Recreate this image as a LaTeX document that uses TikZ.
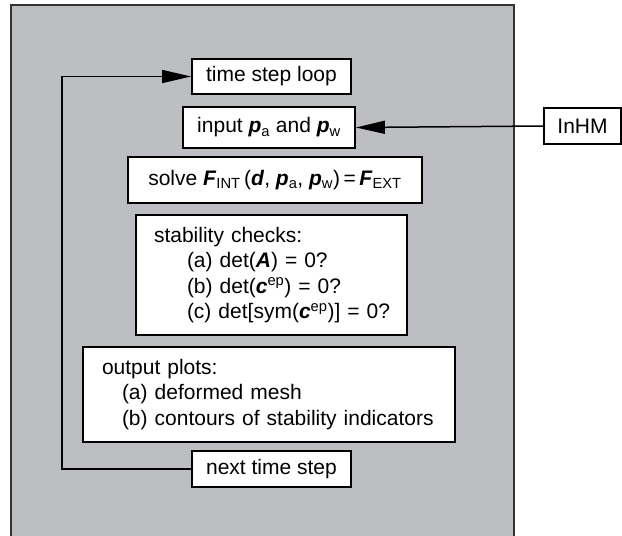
\documentclass[tikz,border=0pt]{standalone}
\usepackage{fontspec}
\setmainfont{Liberation Sans}
\usetikzlibrary{arrows.meta}
\definecolor{panelgray}{RGB}{189,190,194}
\newcommand\bv[1]{\textbf{\textit{#1}}}
\begin{document}
\begin{tikzpicture}[x=1pt,y=-1pt,
  box/.style={draw=black, line width=1.9pt, fill=white, inner sep=0pt,
    font=\fontsize{21}{25.5}\selectfont},
  conn/.style={line width=1.5pt},
  arr/.style={conn,-{Triangle[length=29pt,width=13pt]}}]
\useasboundingbox (0,0) rectangle (622,536);
\fill[panelgray] (11,5) rectangle (514,545);
\draw[line width=1.4pt, draw=black!80] (11,545) -- (11,5) -- (514,5) -- (514,545);

\node[box, minimum width=159pt, minimum height=35pt] (loop) at (271.5,76.5) {time step loop};
\node[box, minimum width=172pt, minimum height=41pt] (input) at (269,127.5)
  {input \bv{p}\textsubscript{a} and \bv{p}\textsubscript{w}};
\node[box, minimum width=77pt, minimum height=36pt] (inhm) at (582.5,126) {InHM};
\node[box, minimum width=294pt, minimum height=46pt] (solve) at (275,180)
  {solve \bv{F}\textsubscript{INT}\,(\bv{d}, \bv{p}\textsubscript{a}, \bv{p}\textsubscript{w})\,=\,\bv{F}\textsubscript{EXT}};
\node[box, minimum width=271pt, minimum height=120pt, text width=235pt, inner xsep=18pt, align=left] (stab) at (271.5,275)
  {\mbox{stability checks:}\\
   \mbox{\hspace*{33pt}(a) det(\bv{A}) = 0?}\\
   \mbox{\hspace*{33pt}(b) det(\bv{c}\textsuperscript{ep}) = 0?}\\
   \mbox{\hspace*{33pt}(c) det[sym(\bv{c}\textsuperscript{ep})] = 0?}};
\node[box, minimum width=372pt, minimum height=95pt, text width=334pt, inner xsep=19pt, align=left] (out) at (269,394.5)
  {\mbox{output plots:}\\
   \mbox{\hspace*{20pt}(a) deformed mesh}\\
   \mbox{\hspace*{20pt}(b) contours of stability indicators}};
\node[box, minimum width=159pt, minimum height=36pt] (next) at (271.5,469) {next time step};

\coordinate (corner) at (62,469);
\draw[arr] (inhm.west) -- (input.east);
\draw[arr] (next.west) -- (corner) |- (loop.west);
\end{tikzpicture}
\end{document}
